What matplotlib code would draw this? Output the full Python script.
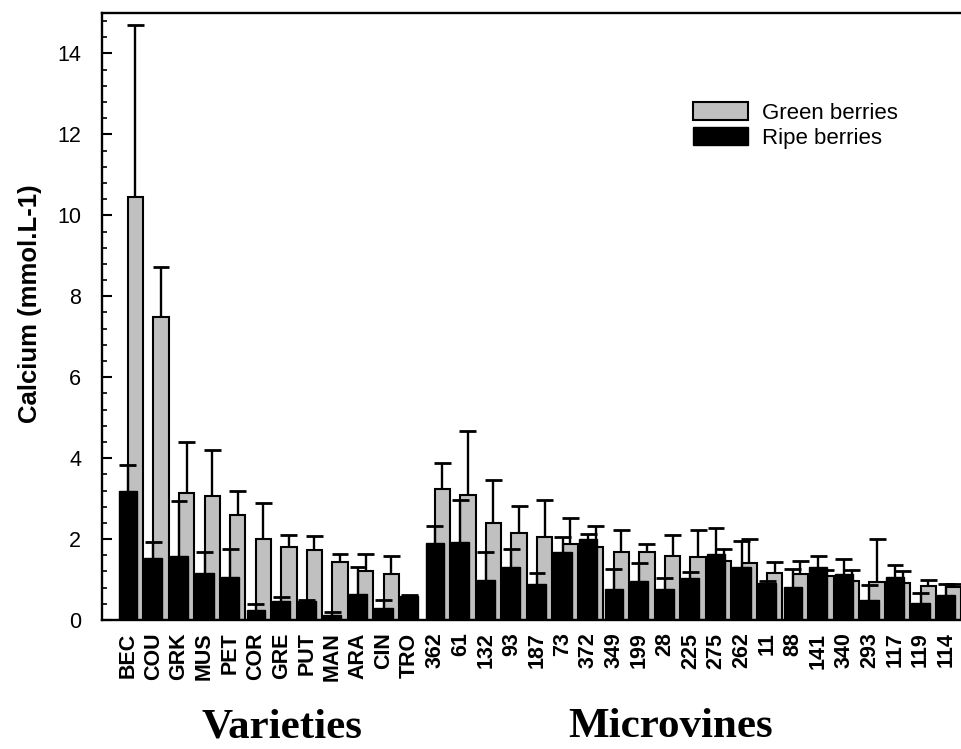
import matplotlib.pyplot as plt
import numpy as np
from matplotlib.ticker import MultipleLocator
from matplotlib.patches import Patch

plt.rcParams['font.family'] = ['Liberation Sans', 'DejaVu Sans']

categories = ['BEC', 'COU', 'GRK', 'MUS', 'PET', 'COR', 'GRE', 'PUT', 'MAN', 'ARA', 'CIN', 'TRO',
              '362', '61', '132', '93', '187', '73', '372', '349', '199', '28', '225', '275',
              '262', '11', '88', '141', '340', '293', '117', '119', '114']

# green berries (mean, upper error)
green = [10.45, 7.50, 3.15, 3.06, 2.60, 2.00, 1.81, 1.73, 1.44, 1.20, 1.14, np.nan,
         3.23, 3.09, 2.39, 2.14, 2.06, 1.87, 1.81, 1.67, 1.67, 1.59, 1.56, 1.45,
         1.42, 1.17, 1.13, 1.08, 0.97, 0.94, 0.92, 0.85, 0.82]
green_err = [4.25, 1.22, 1.25, 1.15, 0.60, 0.90, 0.29, 0.35, 0.19, 0.43, 0.44, np.nan,
             0.64, 1.59, 1.06, 0.67, 0.90, 0.64, 0.52, 0.55, 0.22, 0.52, 0.66, 0.30,
             0.58, 0.27, 0.32, 0.15, 0.26, 1.06, 0.30, 0.15, 0.08]

# ripe berries (mean, upper error)
ripe = [3.18, 1.54, 1.57, 1.15, 1.07, 0.26, 0.46, 0.48, 0.13, 0.65, 0.29, 0.60,
        1.91, 1.93, 0.99, 1.31, 0.88, 1.68, 1.99, 0.76, 0.96, 0.76, 1.04, 1.63,
        1.30, 0.91, 0.82, 1.31, 1.13, 0.49, 1.07, 0.43, 0.63]
ripe_err = [0.64, 0.38, 1.38, 0.52, 0.69, 0.13, 0.10, 0.02, 0.07, 0.66, 0.20, 0.02,
            0.42, 1.03, 0.68, 0.44, 0.28, 0.36, 0.13, 0.49, 0.45, 0.29, 0.15, 0.65,
            0.65, 0.06, 0.45, 0.27, 0.39, 0.37, 0.29, 0.24, 0.25]

x = np.arange(len(categories))
green = np.array(green)
green_err = np.array(green_err)
ripe = np.array(ripe)
ripe_err = np.array(ripe_err)
ok = ~np.isnan(green)

fig = plt.figure(figsize=(9.62, 7.49), dpi=100)
ax = fig.add_axes([0.106, 0.1722, 0.894, 0.8104])

gray = '#c0c0c0'
cap = 0.33
# green bars behind, shifted right
gx = x[ok] + 0.3
ax.bar(gx, green[ok], width=0.6, color=gray, edgecolor='black', linewidth=1.5, zorder=2)
ax.vlines(gx, green[ok], green[ok] + green_err[ok], color='black', lw=1.7, zorder=2.5)
ax.hlines(green[ok] + green_err[ok], gx - cap, gx + cap, color='black', lw=2.0, zorder=2.5)

# ripe bars in front
ax.bar(x, ripe, width=0.71, color='black', edgecolor='black', linewidth=1.0, zorder=3)
ax.vlines(x, ripe, ripe + ripe_err, color='black', lw=1.7, zorder=3.5)
ax.hlines(ripe + ripe_err, x - cap, x + cap, color='black', lw=2.0, zorder=3.5)

ax.set_xlim(-1.01, 32.62)
ax.set_ylim(0, 15)
ax.yaxis.set_major_locator(MultipleLocator(2))
ax.yaxis.set_minor_locator(MultipleLocator(0.4))
ax.set_yticks(np.arange(0, 15, 2))
ax.tick_params(axis='y', which='major', direction='in', length=7.5, width=1.5, labelsize=15.5, pad=15)
ax.tick_params(axis='y', which='minor', direction='in', length=3.8, width=1.2)
ax.set_xticks(x)
ax.set_xticklabels(categories, rotation=90, fontweight='bold', fontsize=15.5)
ax.tick_params(axis='x', length=0, pad=9)

for s in ax.spines.values():
    s.set_linewidth(1.7)
ax.spines['right'].set_visible(False)

fig.text(30 / 962, 1 - 304 / 749, 'Calcium (mmol.L-1)', rotation=90, ha='center', va='center',
         fontsize=18.5, fontweight='bold')

fig.text(282 / 962, 1 - 727 / 749, 'Varieties', ha='center', va='center',
         fontsize=31, fontweight='bold', family='Liberation Serif')
fig.text(671 / 962, 1 - 727 / 749, 'Microvines', ha='center', va='center',
         fontsize=31, fontweight='bold', family='Liberation Serif')

handles = [Patch(facecolor=gray, edgecolor='black', linewidth=1.5, label='Green berries'),
           Patch(facecolor='black', edgecolor='black', label='Ripe berries')]
ax.legend(handles=handles, loc='upper left', bbox_to_anchor=(693 / 962, 1 - 102 / 749),
          bbox_transform=fig.transFigure, frameon=False, fontsize=16, borderpad=0,
          borderaxespad=0, handlelength=2.48, handleheight=0.86, handletextpad=0.63,
          labelspacing=0.15)

fig.savefig('out.png', dpi=100)
